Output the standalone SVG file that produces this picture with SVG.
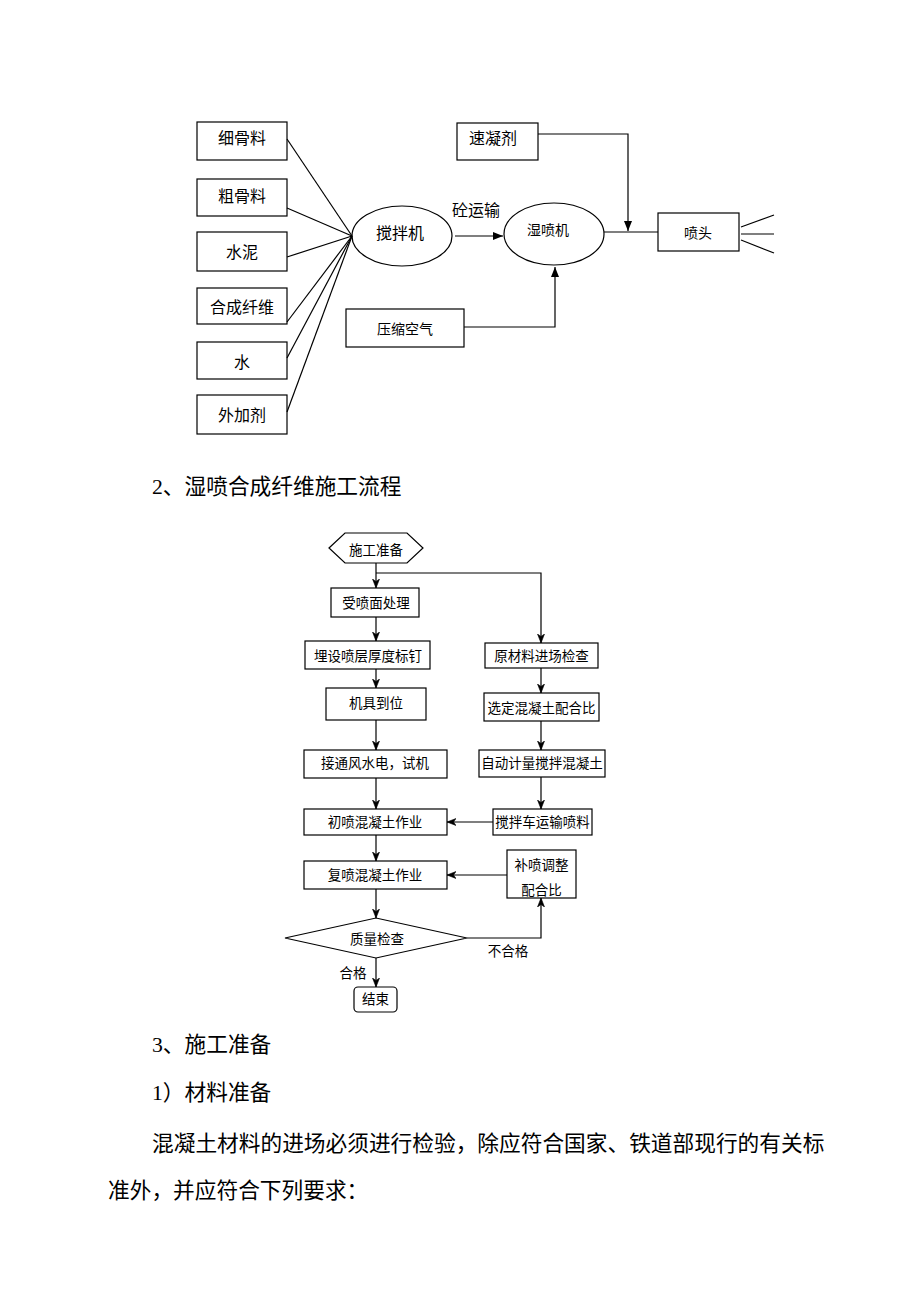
<svg xmlns="http://www.w3.org/2000/svg" width="920" height="1302" viewBox="0 0 920 1302">
<style>
  .box{fill:#fff;stroke:#000;stroke-width:1.2}
  .ln{fill:none;stroke:#000;stroke-width:1.2}
  .t{font-family:"Liberation Serif","Noto Sans CJK SC",serif;fill:#000;text-anchor:middle}
  .t16{font-size:16px}
  .t14{font-size:14px}
  .t13{font-size:13.5px}
  .body{font-family:"Liberation Serif","Noto Sans CJK SC",serif;fill:#000;font-size:21.7px}
</style>
<defs>
  <marker id="tri" markerWidth="10" markerHeight="8" refX="10" refY="4" orient="auto" markerUnits="userSpaceOnUse">
    <path d="M0,0 L10,4 L0,8 z" fill="#000"/>
  </marker>
  <marker id="open" markerWidth="9" markerHeight="8" refX="9" refY="4" orient="auto" markerUnits="userSpaceOnUse">
    <path d="M0,0.5 L9,4 L0,7.5 L2.5,4 z" fill="#000" stroke="#000" stroke-width="0.6"/>
  </marker>
</defs>
<rect width="920" height="1302" fill="#fff"/>

<!-- Top diagram nodes -->
<g id="n-xiguliao"><rect class="box" x="197" y="122" width="90" height="38"/><text class="t t16" x="242" y="144">细骨料</text></g>
<g id="n-cuguliao"><rect class="box" x="197" y="179" width="90" height="37"/><text class="t t16" x="242" y="202">粗骨料</text></g>
<g id="n-shuini"><rect class="box" x="197" y="232" width="90" height="39"/><text class="t t16" x="242" y="258">水泥</text></g>
<g id="n-hecheng"><rect class="box" x="197" y="288" width="90" height="36"/><text class="t t16" x="242" y="313">合成纤维</text></g>
<g id="n-shui"><rect class="box" x="197" y="342" width="90" height="37"/><text class="t t16" x="242" y="368">水</text></g>
<g id="n-waijiaji"><rect class="box" x="197" y="395" width="90" height="39"/><text class="t t16" x="242" y="421">外加剂</text></g>
<g id="n-jiaobanji"><ellipse class="box" cx="402" cy="236" rx="50" ry="30"/><text class="t t16" x="400" y="239">搅拌机</text></g>
<g id="n-shipenji"><ellipse class="box" cx="554" cy="234" rx="50" ry="31"/><text class="t t14" x="548" y="235">湿喷机</text></g>
<g id="n-suningji"><rect class="box" x="457" y="123" width="81" height="37"/><text class="t t16" x="493" y="144">速凝剂</text></g>
<g id="n-pentou"><rect class="box" x="658" y="213" width="81" height="38"/><text class="t t14" x="698" y="238">喷头</text></g>
<g id="n-yasuo"><rect class="box" x="346" y="309" width="118" height="38"/><text class="t t14" x="405" y="334">压缩空气</text></g>
<g id="l-tongyunshu"><text class="t t16" x="476" y="216">砼运输</text></g>

<!-- Flowchart nodes -->
<g id="f-zhunbei"><polygon class="box" points="329,548 345,533 407,533 423,548 407,563 345,563"/><text class="t t13" x="376" y="555">施工准备</text></g>
<g id="f-shoupen"><rect class="box" x="331" y="588" width="88" height="29"/><text class="t t13" x="376" y="608">受喷面处理</text></g>
<g id="f-maishe"><rect class="box" x="305" y="641" width="125" height="28"/><text class="t t13" x="368" y="661">埋设喷层厚度标钉</text></g>
<g id="f-jiju"><rect class="box" x="326" y="688" width="100" height="32"/><text class="t t13" x="376" y="708">机具到位</text></g>
<g id="f-jietong"><rect class="box" x="304" y="750" width="143" height="28"/><text class="t t13" x="375" y="768">接通风水电，试机</text></g>
<g id="f-chupen"><rect class="box" x="304" y="809" width="143" height="26"/><text class="t t13" x="375" y="827">初喷混凝土作业</text></g>
<g id="f-fupen"><rect class="box" x="304" y="861" width="143" height="28"/><text class="t t13" x="375" y="880">复喷混凝土作业</text></g>
<g id="f-zhiliang"><polygon class="box" points="285,938 376,918 467,938 376,958"/><text class="t t13" x="377" y="944">质量检查</text></g>
<g id="f-jieshu"><rect class="box" x="354" y="987" width="43" height="25" rx="4" ry="4"/><text class="t t13" x="375.5" y="1004">结束</text></g>
<g id="f-yuancailiao"><rect class="box" x="485" y="643" width="113" height="25"/><text class="t t13" x="541.5" y="661">原材料进场检查</text></g>
<g id="f-xuanding"><rect class="box" x="484" y="693" width="115" height="28"/><text class="t t13" x="541.5" y="713">选定混凝土配合比</text></g>
<g id="f-zidong"><rect class="box" x="479" y="750" width="126" height="27"/><text class="t t13" x="542" y="768">自动计量搅拌混凝土</text></g>
<g id="f-jiaobanche"><rect class="box" x="493" y="809" width="99" height="26"/><text class="t t13" x="542.5" y="827">搅拌车运输喷料</text></g>
<g id="f-bupen"><rect class="box" x="507" y="850" width="69" height="48"/><text class="t t13" x="541.5" y="870">补喷调整</text><text class="t t13" x="541.5" y="895">配合比</text></g>
<g id="f-labels"><text class="t t13" x="508" y="956">不合格</text><text class="t t13" x="353" y="978">合格</text></g>

<!-- Connectors -->
<g id="connectors">
  <line class="ln" x1="287" y1="139" x2="352" y2="236"/>
  <line class="ln" x1="287" y1="208" x2="352" y2="236"/>
  <line class="ln" x1="287" y1="257" x2="352" y2="236"/>
  <line class="ln" x1="287" y1="322" x2="352" y2="236"/>
  <line class="ln" x1="287" y1="358" x2="352" y2="236"/>
  <line class="ln" x1="287" y1="412" x2="352" y2="236"/>
  <line class="ln" x1="455" y1="236" x2="503" y2="236" marker-end="url(#tri)"/>
  <polyline class="ln" points="538,134 628,134 628,231" marker-end="url(#tri)"/>
  <line class="ln" x1="604" y1="232" x2="658" y2="232"/>
  <polyline class="ln" points="464,327 555,327 555,267" marker-end="url(#tri)"/>
  <line class="ln" x1="741" y1="227" x2="774" y2="215"/>
  <line class="ln" x1="741" y1="234" x2="774" y2="234"/>
  <line class="ln" x1="741" y1="240" x2="774" y2="253"/>

  <line class="ln" x1="376" y1="563" x2="376" y2="588" marker-end="url(#open)"/>
  <polyline class="ln" points="376,573 541,573 541,643" marker-end="url(#open)"/>
  <line class="ln" x1="376" y1="617" x2="376" y2="641" marker-end="url(#open)"/>
  <line class="ln" x1="376" y1="669" x2="376" y2="688" marker-end="url(#open)"/>
  <line class="ln" x1="376" y1="720" x2="376" y2="750" marker-end="url(#open)"/>
  <line class="ln" x1="376" y1="778" x2="376" y2="809" marker-end="url(#open)"/>
  <line class="ln" x1="376" y1="835" x2="376" y2="861" marker-end="url(#open)"/>
  <line class="ln" x1="376" y1="889" x2="376" y2="918" marker-end="url(#open)"/>
  <line class="ln" x1="376" y1="958" x2="376" y2="987" marker-end="url(#open)"/>
  <line class="ln" x1="541" y1="668" x2="541" y2="693" marker-end="url(#open)"/>
  <line class="ln" x1="541" y1="721" x2="541" y2="750" marker-end="url(#open)"/>
  <line class="ln" x1="541" y1="777" x2="541" y2="809" marker-end="url(#open)"/>
  <line class="ln" x1="493" y1="822" x2="447" y2="822" marker-end="url(#open)"/>
  <line class="ln" x1="507" y1="875" x2="447" y2="875" marker-end="url(#open)"/>
  <polyline class="ln" points="467,938 541,938 541,898" marker-end="url(#open)"/>
</g>

<!-- Body text -->
<g id="body-text">
  <text class="body" x="152" y="494">2、湿喷合成纤维施工流程</text>
  <text class="body" x="152" y="1052">3、施工准备</text>
  <text class="body" x="152" y="1100">1）材料准备</text>
  <text class="body" x="152" y="1151">混凝土材料的进场必须进行检验，除应符合国家、铁道部现行的有关标</text>
  <text class="body" x="108" y="1198">准外，并应符合下列要求：</text>
</g>
</svg>
